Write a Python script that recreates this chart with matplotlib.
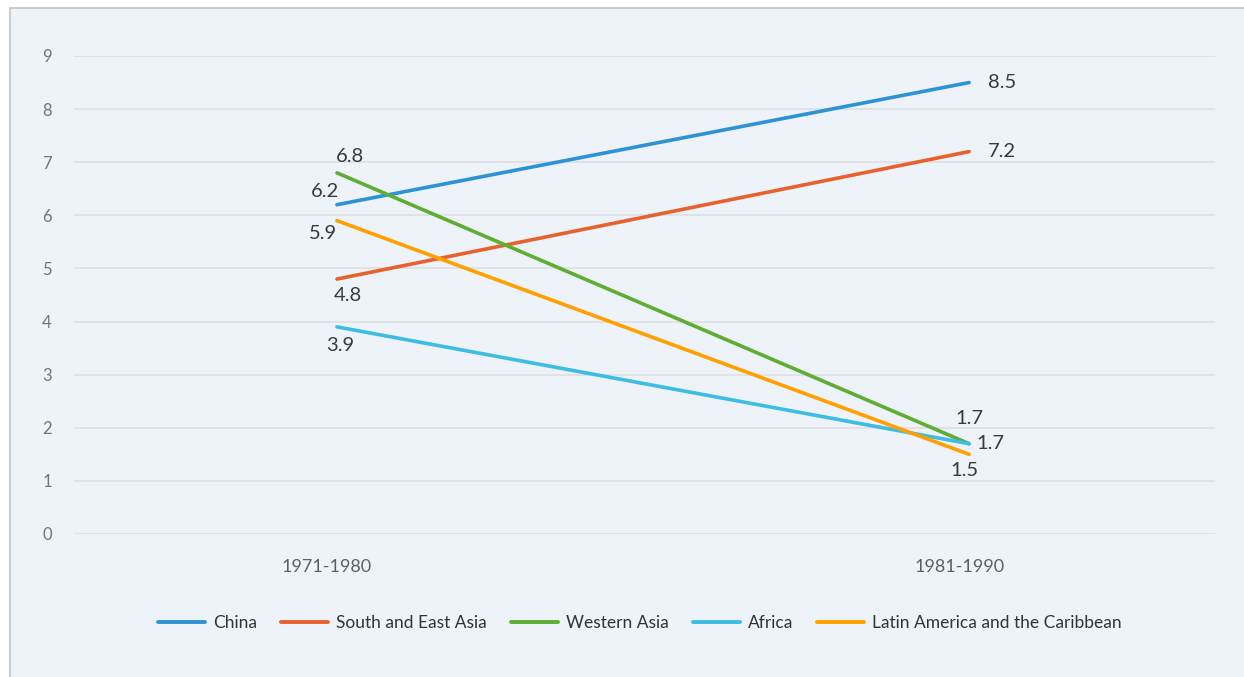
import matplotlib
matplotlib.use("Agg")
import matplotlib.pyplot as plt
from matplotlib.patches import Rectangle
from matplotlib.lines import Line2D
from matplotlib.transforms import ScaledTranslation

plt.rcParams['font.family'] = ['Lato', 'DejaVu Sans']

periods = ["1971-1980", "1981-1990"]
regions = ["China", "South and East Asia", "Western Asia", "Africa",
           "Latin America and the Caribbean"]
china = [6.2, 8.5]
south_east_asia = [4.8, 7.2]
western_asia = [6.8, 1.7]
africa = [3.9, 1.7]
latin_america = [5.9, 1.5]
y_ticks = [0, 1, 2, 3, 4, 5, 6, 7, 8, 9]

series = [china, south_east_asia, western_asia, africa, latin_america]
colors = ["#2E93D5", "#E8612C", "#5FAD32", "#3DBDE3", "#FFA000"]

# label offsets in pixels for (first period, second period) of each series
offsets = [((-12, 13), (33, 0)),
           ((11, -16), (33, 0)),
           ((13, 16), (0, 25)),
           ((3, -19), (21, 0)),
           ((-14, -13), (-5, -16))]

W, H = 1244, 677
fig = plt.figure(figsize=(W / 100, H / 100), dpi=100)
fig.patch.set_facecolor("white")
fig.add_artist(Rectangle((10 / W, -0.01), 1.1, 1 - 8 / H + 0.01,
                         transform=fig.transFigure, facecolor="#EEF3FA",
                         edgecolor="#C4C4C4", linewidth=1.2, zorder=0))

ax = fig.add_axes([74 / W, (H - 534) / H, 1141 / W, 478 / H])
ax.set_facecolor("none")

x = list(range(len(periods)))
for name, vals, col, offs in zip(regions, series, colors, offsets):
    ax.plot(x, vals, color=col, lw=2.6, solid_capstyle="round", label=name,
            zorder=3)
    for xi, v, off in zip(x, vals, offs):
        ax.annotate(f"{v}", (xi, v), xytext=off, textcoords="offset pixels",
                    ha="center", va="center", fontsize=14.5, color="#3A3A3A",
                    zorder=4)

ax.set_xlim(-0.416, 1.389)
ax.set_ylim(0, 9)
ax.set_yticks(y_ticks)
ax.set_xticks(x)
ax.set_xticklabels(periods)
ax.grid(axis="y", color="#DEDFE2", lw=1.2)
ax.set_axisbelow(True)
for s in ax.spines.values():
    s.set_visible(False)
ax.tick_params(axis="y", length=0, pad=16, labelsize=12, labelcolor="#757575")
ax.tick_params(axis="x", length=0, pad=18, labelsize=13, labelcolor="#606060")
shift = ScaledTranslation(-10 / 100, 0, fig.dpi_scale_trans)
for lbl in ax.get_xticklabels():
    lbl.set_transform(lbl.get_transform() + shift)

handles = [Line2D([], [], color=c, lw=2.8, solid_capstyle="round")
           for c in colors]
fig.legend(handles, regions, loc="center", ncol=5,
           bbox_to_anchor=(640 / W, 1 - 623 / H), frameon=False,
           fontsize=12.5, labelcolor="#333333", handlelength=2.7,
           handletextpad=0.45, columnspacing=1.4)

fig.savefig("out.png", dpi=100)
